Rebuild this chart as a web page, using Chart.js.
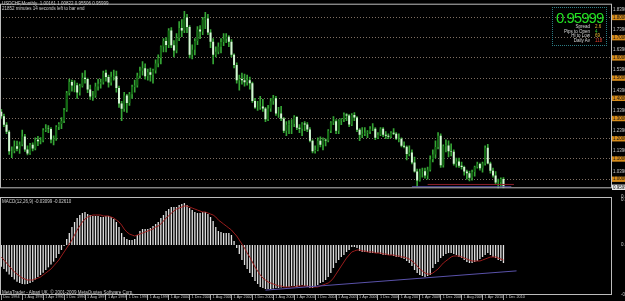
<!DOCTYPE html>
<html>
<head>
<meta charset="utf-8">
<script src="https://cdn.jsdelivr.net/npm/chart.js@4.4.1/dist/chart.umd.min.js"></script>
<style>
html, body { margin: 0; padding: 0; background: #000; }
#wrap { position: relative; width: 625px; height: 301px; overflow: hidden; background: #000; font-family: "Liberation Sans", Arial, sans-serif; }
canvas { position: absolute; left: 0; }
#main { top: 0; }
#macd { top: 192px; }
.txt { position: absolute; color: #cfcfcf; font-size: 4.5px; line-height: 5px; white-space: nowrap; }
#info { position: absolute; left: 552px; top: 7px; width: 53px; height: 37px; border: 1px dotted #2b7c84; }
#info .big { position: absolute; left: 3px; top: 2px; font-size: 15px; line-height: 15px; letter-spacing: -1px; color: #22e022; }
#info .lab { position: absolute; right: 16px; font-size: 4.5px; line-height: 5px; color: #d8d8d8; white-space: nowrap; }
#info .val { position: absolute; left: 42px; font-size: 4.5px; line-height: 5px; white-space: nowrap; }
</style>
</head>
<body>
<div id="wrap">
  <canvas id="main" width="625" height="192"></canvas>
  <canvas id="macd" width="625" height="109"></canvas>
  <div class="txt" style="left:2px;top:1px;">USDCHF,Monthly&nbsp; 1.00161 1.00822 0.95506 0.95999</div>
  <div class="txt" style="left:2px;top:6px;">21852 minutes 14 seconds left to bar end</div>
  <div class="txt" style="left:2px;top:199px;">MACD(12,26,9) -0.03099 -0.02610</div>
  <div class="txt" style="left:2px;top:290px;">MetaTrader - Alpari UK, © 2001-2009 MetaQuotes Software Corp.</div>
  <div id="info">
    <div class="big">0.95999</div>
    <div class="lab" style="top:16px;">Spread</div><div class="val" style="top:16px;color:#e8b830;">2.6</div>
    <div class="lab" style="top:20.5px;">Pips to Open</div><div class="val" style="top:20.5px;color:#33c433;">4</div>
    <div class="lab" style="top:25px;">Hi to Low</div><div class="val" style="top:25px;color:#e8b830;">69</div>
    <div class="lab" style="top:30px;">Daily Av</div><div class="val" style="top:30px;color:#e04030;">118</div>
  </div>
</div>
<script>
// USDCHF monthly, Dec 1994 .. Dec 2010 (one row per year, first row = Dec 1994)
const opens = [
  1.3330,
  1.3110,1.2690,1.2350,1.1380,1.1390,1.1630,1.1510,1.1720,1.2110,1.1470,1.1270,1.1700,
  1.1520,1.1950,1.1880,1.1920,1.2420,1.2490,1.2480,1.1960,1.2010,1.2580,1.2730,1.2880,
  1.3420,1.4260,1.4810,1.4630,1.4650,1.4290,1.4610,1.5020,1.4950,1.4440,1.4090,1.4130,
  1.4590,1.4720,1.4800,1.5260,1.5050,1.4780,1.5070,1.5090,1.4510,1.3750,1.3490,1.4140,
  1.3770,1.4200,1.4570,1.4640,1.5120,1.5370,1.5490,1.5090,1.5290,1.5160,1.5380,1.5720,
  1.6000,1.6560,1.6830,1.6640,1.7350,1.6630,1.6360,1.6980,1.7480,1.7350,1.8000,1.7530,
  1.6150,1.6400,1.6830,1.7400,1.7300,1.7900,1.7950,1.7250,1.6800,1.6150,1.6300,1.6550,
  1.6780,1.6950,1.7050,1.6800,1.6150,1.5650,1.4900,1.4950,1.4900,1.4800,1.4900,1.4750,
  1.3870,1.3550,1.3550,1.3600,1.3500,1.2960,1.3500,1.3850,1.4000,1.3250,1.3250,1.3000,
  1.2400,1.2690,1.2720,1.2730,1.3080,1.2550,1.2500,1.2750,1.2700,1.2460,1.1900,1.1380,
  1.1440,1.1900,1.1700,1.1950,1.1920,1.2400,1.2800,1.2870,1.2400,1.2900,1.2950,1.3200,
  1.3150,1.2700,1.3180,1.3050,1.2450,1.2200,1.2250,1.2300,1.2350,1.2500,1.2500,1.2050,
  1.2200,1.2500,1.2200,1.2150,1.2100,1.2300,1.2250,1.2000,1.2000,1.1650,1.1600,1.1250,
  1.1320,1.0830,1.0380,0.9930,1.0380,1.0390,1.0180,1.0470,1.0990,1.1220,1.1590,1.2150,
  1.0690,1.1630,1.1670,1.1380,1.1360,1.0770,1.0880,1.0670,1.0600,1.0380,1.0300,1.0070,
  1.0350,1.0600,1.0750,1.0540,1.0780,1.1560,1.0780,1.0420,1.0180,0.9840,0.9850,1.0010
];
const highs = [
  1.3450,
  1.3220,1.2800,1.2400,1.1600,1.1900,1.1880,1.1850,1.2430,1.2220,1.1650,1.1780,1.1800,
  1.2050,1.2120,1.2060,1.2500,1.2700,1.2650,1.2550,1.2150,1.2650,1.2800,1.3050,1.3500,
  1.4350,1.4950,1.4900,1.4880,1.4750,1.4700,1.5250,1.5370,1.5000,1.4650,1.4350,1.4750,
  1.4950,1.4950,1.5350,1.5400,1.5150,1.5300,1.5400,1.5350,1.4600,1.3850,1.4300,1.4200,
  1.4300,1.4650,1.4900,1.5250,1.5550,1.5820,1.5700,1.5450,1.5500,1.5450,1.5900,1.6150,
  1.6600,1.6950,1.7000,1.7450,1.7500,1.6850,1.7200,1.7800,1.7900,1.8305,1.8150,1.7600,
  1.6650,1.6950,1.7550,1.7600,1.8000,1.8250,1.8150,1.7400,1.6950,1.6550,1.6750,1.6950,
  1.7200,1.7200,1.7100,1.6900,1.6200,1.5750,1.5150,1.5250,1.5200,1.5150,1.5050,1.4800,
  1.4000,1.3850,1.4100,1.3950,1.3550,1.3650,1.4000,1.4150,1.4100,1.3550,1.3600,1.3050,
  1.2850,1.2900,1.2950,1.3150,1.3100,1.2700,1.2800,1.2850,1.2800,1.2550,1.1950,1.1650,
  1.2050,1.2100,1.2050,1.2000,1.2450,1.2850,1.3100,1.2950,1.2950,1.3000,1.3285,1.3250,
  1.3200,1.3250,1.3300,1.3100,1.2500,1.2550,1.2550,1.2400,1.2600,1.2750,1.2550,1.2300,
  1.2550,1.2550,1.2350,1.2250,1.2350,1.2500,1.2300,1.2250,1.2050,1.1850,1.1650,1.1650,
  1.1450,1.1100,1.0500,1.0500,1.0550,1.0550,1.0600,1.1150,1.1450,1.1900,1.2300,1.2250,
  1.1700,1.1950,1.1900,1.1750,1.1450,1.1050,1.1050,1.0850,1.0650,1.0450,1.0400,1.0450,
  1.0650,1.0850,1.0800,1.0850,1.1650,1.1730,1.0850,1.0550,1.0380,1.0000,1.0070,1.0080
];
const lows = [
  1.3000,
  1.2600,1.2250,1.1220,1.1065,1.1300,1.1400,1.1270,1.1650,1.1380,1.1200,1.1230,1.1400,
  1.1450,1.1660,1.1750,1.1850,1.2350,1.2300,1.1800,1.1700,1.1920,1.2450,1.2500,1.2800,
  1.3350,1.4150,1.4350,1.4320,1.4000,1.4150,1.4550,1.4750,1.4280,1.3950,1.3900,1.4050,
  1.4400,1.4500,1.4700,1.4850,1.4550,1.4650,1.4900,1.4300,1.3550,1.2900,1.3350,1.3300,
  1.3650,1.4000,1.4300,1.4550,1.5000,1.5150,1.4950,1.4900,1.4850,1.4750,1.5250,1.5550,
  1.5700,1.6300,1.6300,1.6500,1.6500,1.6050,1.6250,1.6850,1.7050,1.7250,1.7250,1.6000,
  1.5950,1.6150,1.6650,1.6950,1.7150,1.7450,1.7150,1.6500,1.5700,1.6050,1.6200,1.6250,
  1.6600,1.6750,1.6550,1.6050,1.5500,1.4750,1.4400,1.4700,1.4600,1.4650,1.4450,1.3800,
  1.3500,1.3400,1.3450,1.3350,1.2850,1.2900,1.3350,1.3700,1.3150,1.3050,1.2900,1.2300,
  1.2150,1.2250,1.2250,1.2600,1.2450,1.2300,1.2150,1.2400,1.2350,1.1850,1.1300,1.1290,
  1.1400,1.1600,1.1450,1.1650,1.1850,1.2300,1.2700,1.2250,1.2250,1.2700,1.2850,1.2900,
  1.2600,1.2650,1.2900,1.2350,1.1900,1.2050,1.2150,1.2050,1.2250,1.2400,1.1950,1.2000,
  1.2150,1.2100,1.2000,1.2000,1.2050,1.2200,1.1950,1.1850,1.1600,1.1550,1.0950,1.1150,
  1.0750,1.0350,0.9637,0.9900,1.0100,1.0050,1.0000,1.0400,1.0850,1.1050,1.1500,1.0580,
  1.0600,1.1350,1.1100,1.1150,1.0700,1.0600,1.0580,1.0500,1.0200,1.0000,0.9915,0.9950,
  1.0150,1.0550,1.0450,1.0350,1.0700,1.0750,1.0300,1.0100,0.9750,0.9460,0.9630,0.9550
];
const closes = [
  1.3110,
  1.2690,1.2350,1.1380,1.1390,1.1630,1.1510,1.1720,1.2110,1.1470,1.1270,1.1700,1.1520,
  1.1950,1.1880,1.1920,1.2420,1.2490,1.2480,1.1960,1.2010,1.2580,1.2730,1.2880,1.3420,
  1.4260,1.4810,1.4630,1.4650,1.4290,1.4610,1.5020,1.4950,1.4440,1.4090,1.4130,1.4590,
  1.4720,1.4800,1.5260,1.5050,1.4780,1.5070,1.5090,1.4510,1.3750,1.3490,1.4140,1.3770,
  1.4200,1.4570,1.4640,1.5120,1.5370,1.5490,1.5090,1.5290,1.5160,1.5380,1.5720,1.6000,
  1.6560,1.6830,1.6640,1.7350,1.6630,1.6360,1.6980,1.7480,1.7350,1.8000,1.7530,1.6150,
  1.6400,1.6830,1.7400,1.7300,1.7900,1.7950,1.7250,1.6800,1.6150,1.6300,1.6550,1.6780,
  1.6950,1.7050,1.6800,1.6150,1.5650,1.4900,1.4950,1.4900,1.4800,1.4900,1.4750,1.3870,
  1.3550,1.3550,1.3600,1.3500,1.2960,1.3500,1.3850,1.4000,1.3250,1.3250,1.3000,1.2400,
  1.2690,1.2720,1.2730,1.3080,1.2550,1.2500,1.2750,1.2700,1.2460,1.1900,1.1380,1.1440,
  1.1900,1.1700,1.1950,1.1920,1.2400,1.2800,1.2870,1.2400,1.2900,1.2950,1.3200,1.3150,
  1.2700,1.3180,1.3050,1.2450,1.2200,1.2250,1.2300,1.2350,1.2500,1.2500,1.2050,1.2200,
  1.2500,1.2200,1.2150,1.2100,1.2300,1.2250,1.2000,1.2000,1.1650,1.1600,1.1250,1.1320,
  1.0830,1.0380,0.9930,1.0380,1.0390,1.0180,1.0470,1.0990,1.1220,1.1590,1.2150,1.0690,
  1.1630,1.1670,1.1380,1.1360,1.0770,1.0880,1.0670,1.0600,1.0380,1.0300,1.0070,1.0350,
  1.0600,1.0750,1.0540,1.0780,1.1560,1.0780,1.0420,1.0180,0.9840,0.9850,1.0010,0.9600
];

// MACD(12,26,9): main line (histogram) and signal line
const macdMain = [
  -0.0373,
  -0.0413,-0.0459,-0.0507,-0.0550,-0.0593,-0.0631,-0.0654,-0.0671,-0.0676,-0.0671,-0.0654,-0.0631,
  -0.0593,-0.0550,-0.0516,-0.0476,-0.0430,-0.0384,-0.0335,-0.0287,-0.0224,-0.0155,-0.0086,-0.0017,
  0.0103,0.0206,0.0310,0.0396,0.0464,0.0516,0.0550,0.0568,0.0533,0.0516,0.0499,0.0499,
  0.0499,0.0482,0.0482,0.0499,0.0499,0.0482,0.0447,0.0396,0.0310,0.0206,0.0138,0.0103,
  0.0086,0.0086,0.0103,0.0172,0.0241,0.0275,0.0275,0.0275,0.0292,0.0327,0.0361,0.0396,
  0.0464,0.0516,0.0585,0.0619,0.0654,0.0654,0.0654,0.0688,0.0705,0.0722,0.0688,0.0636,
  0.0602,0.0568,0.0550,0.0550,0.0568,0.0568,0.0533,0.0482,0.0413,0.0310,0.0241,0.0224,
  0.0206,0.0206,0.0206,0.0172,0.0069,-0.0052,-0.0155,-0.0258,-0.0344,-0.0413,-0.0482,-0.0550,
  -0.0619,-0.0671,-0.0722,-0.0740,-0.0757,-0.0757,-0.0757,-0.0748,-0.0740,-0.0740,-0.0731,-0.0722,
  -0.0722,-0.0722,-0.0705,-0.0705,-0.0722,-0.0705,-0.0688,-0.0705,-0.0722,-0.0740,-0.0740,-0.0722,
  -0.0688,-0.0654,-0.0636,-0.0602,-0.0550,-0.0482,-0.0396,-0.0310,-0.0258,-0.0206,-0.0172,-0.0120,
  -0.0086,-0.0034,-0.0034,-0.0052,-0.0103,-0.0120,-0.0120,-0.0120,-0.0138,-0.0138,-0.0138,-0.0138,
  -0.0155,-0.0172,-0.0172,-0.0172,-0.0172,-0.0189,-0.0206,-0.0206,-0.0224,-0.0241,-0.0275,-0.0310,
  -0.0361,-0.0430,-0.0482,-0.0516,-0.0533,-0.0550,-0.0533,-0.0516,-0.0396,-0.0327,-0.0292,-0.0224,
  -0.0189,-0.0155,-0.0138,-0.0138,-0.0155,-0.0172,-0.0206,-0.0224,-0.0258,-0.0292,-0.0310,-0.0310,
  -0.0292,-0.0275,-0.0241,-0.0206,-0.0172,-0.0138,-0.0172,-0.0206,-0.0224,-0.0258,-0.0275,-0.0310
];
const macdSignal = [
  -0.0206,
  -0.0258,-0.0310,-0.0361,-0.0413,-0.0464,-0.0499,-0.0533,-0.0568,-0.0585,-0.0602,-0.0602,-0.0602,
  -0.0585,-0.0568,-0.0550,-0.0516,-0.0482,-0.0447,-0.0413,-0.0361,-0.0310,-0.0258,-0.0189,-0.0120,
  -0.0052,0.0017,0.0086,0.0172,0.0258,0.0327,0.0396,0.0447,0.0482,0.0499,0.0516,0.0516,
  0.0516,0.0516,0.0499,0.0499,0.0499,0.0482,0.0464,0.0430,0.0396,0.0344,0.0275,0.0224,
  0.0189,0.0172,0.0155,0.0172,0.0189,0.0206,0.0224,0.0241,0.0258,0.0275,0.0310,0.0327,
  0.0361,0.0413,0.0464,0.0499,0.0550,0.0585,0.0619,0.0636,0.0654,0.0671,0.0671,0.0654,
  0.0636,0.0619,0.0602,0.0585,0.0568,0.0568,0.0550,0.0533,0.0516,0.0482,0.0430,0.0396,
  0.0361,0.0327,0.0292,0.0258,0.0206,0.0155,0.0086,0.0017,-0.0052,-0.0138,-0.0206,-0.0292,
  -0.0378,-0.0447,-0.0516,-0.0568,-0.0602,-0.0636,-0.0654,-0.0671,-0.0688,-0.0705,-0.0705,-0.0722,
  -0.0722,-0.0722,-0.0722,-0.0722,-0.0705,-0.0705,-0.0705,-0.0705,-0.0705,-0.0722,-0.0722,-0.0722,
  -0.0722,-0.0705,-0.0688,-0.0671,-0.0654,-0.0619,-0.0568,-0.0499,-0.0430,-0.0361,-0.0292,-0.0224,
  -0.0172,-0.0120,-0.0103,-0.0086,-0.0086,-0.0103,-0.0103,-0.0120,-0.0120,-0.0120,-0.0138,-0.0138,
  -0.0138,-0.0155,-0.0155,-0.0172,-0.0172,-0.0172,-0.0189,-0.0189,-0.0206,-0.0206,-0.0224,-0.0241,
  -0.0275,-0.0310,-0.0361,-0.0413,-0.0447,-0.0482,-0.0499,-0.0499,-0.0482,-0.0447,-0.0413,-0.0361,
  -0.0310,-0.0275,-0.0241,-0.0206,-0.0189,-0.0189,-0.0189,-0.0206,-0.0224,-0.0241,-0.0258,-0.0275,
  -0.0275,-0.0275,-0.0275,-0.0258,-0.0241,-0.0224,-0.0206,-0.0206,-0.0206,-0.0224,-0.0241,-0.0258
];

// drawn objects (bar index from / to, price)
const redLevel = { from: 163, to: 196, price: 0.9740 };
const blueLevel = { from: 157, to: 195, price: 0.9630 };
const macdTrend = { from: 101, to: 197, start: -0.0776, end: -0.0445 };

// axis labels
const timeLabels = ['Dec 1994','1 Aug 1995','1 Apr 1996','1 Dec 1996','1 Aug 1997','1 Apr 1998','1 Dec 1998',
  '1 Aug 1999','1 Apr 2000','1 Dec 2000','1 Aug 2001','1 Apr 2002','1 Dec 2002','1 Aug 2003','1 Apr 2004',
  '1 Dec 2004','1 Aug 2005','1 Apr 2006','1 Dec 2006','1 Aug 2007','1 Apr 2008','1 Dec 2008','1 Aug 2009',
  '1 Apr 2010','1 Dec 2010'];
const priceGrid = [1.0, 1.1, 1.2, 1.3, 1.4, 1.5, 1.6, 1.7, 1.8];
const priceScale = [1.0390, 1.1390, 1.2390, 1.3390, 1.4390, 1.5390, 1.6390, 1.7390, 1.8390];
const lastPrice = 0.95999;
const macdTicks = [0.0826, 0.0774, 0, -0.0860];

// chart setup
const SLOTS = 234; // bars + empty space on the right
const monthNames = ['Jan','Feb','Mar','Apr','May','Jun','Jul','Aug','Sep','Oct','Nov','Dec'];
const categories = [];
for (let i = 0; i < SLOTS; i++) {
  categories.push(i < closes.length ? monthNames[(11 + i) % 12] + ' ' + (1994 + Math.floor((11 + i) / 12)) : '');
}

function segment(obj, a, b) {
  const arr = new Array(SLOTS).fill(null);
  arr[obj.from] = a;
  arr[obj.to] = b;
  return arr;
}

const framePlugin = {
  id: 'frame',
  afterDraw(chart) {
    const { ctx, chartArea: a } = chart;
    ctx.save();
    ctx.strokeStyle = '#bcbcbc';
    ctx.lineWidth = 1;
    ctx.strokeRect(a.left + 0.5, a.top + 0.5, a.right - a.left - 1, a.bottom - a.top - 1);
    ctx.restore();
  }
};

const tickFont = { family: 'Liberation Sans', size: 4.5 };

// main window: candles
new Chart(document.getElementById('main'), {
  type: 'bar',
  data: {
    labels: categories,
    datasets: [
      {
        type: 'line',
        data: segment(redLevel, redLevel.price, redLevel.price),
        borderColor: '#8c1f2a', borderWidth: 1, pointRadius: 0, spanGaps: true, order: -2
      },
      {
        type: 'line',
        data: segment(blueLevel, blueLevel.price, blueLevel.price),
        borderColor: '#4e4a9c', borderWidth: 1, pointRadius: 0, spanGaps: true, order: -1
      },
      {
        data: opens.map((o, i) => [o, closes[i]]),
        backgroundColor: opens.map((o, i) => closes[i] >= o ? '#146a14' : '#d6f6d6'),
        barPercentage: 0.75, categoryPercentage: 1, grouped: false, order: 0
      },
      {
        data: lows.map((l, i) => [l, highs[i]]),
        backgroundColor: '#35a535',
        barThickness: 1, grouped: false, order: 1
      }
    ]
  },
  options: {
    responsive: false, animation: false, devicePixelRatio: 1,
    layout: { padding: { top: 1, bottom: 3, left: 0, right: 0 } },
    plugins: { legend: { display: false }, tooltip: { enabled: false } },
    scales: {
      x: { display: false, offset: true },
      y: {
        position: 'right', min: 0.955, max: 1.868,
        afterFit: s => { s.width = 13; },
        afterBuildTicks: s => {
          s.ticks = priceGrid.concat(priceScale, [lastPrice]).map(v => ({ value: v }));
        },
        grid: {
          drawTicks: false,
          color: c => (c.tick && priceGrid.includes(c.tick.value)) ? 'rgba(150,132,118,0.85)' : 'rgba(0,0,0,0)'
        },
        border: { display: false, dash: [1, 2] },
        ticks: {
          font: tickFont, padding: 1,
          showLabelBackdrop: true,
          backdropPadding: { left: 1, right: 4, top: 0, bottom: 0 },
          backdropColor: c => priceGrid.includes(c.tick.value) ? '#d78c1c' : (c.tick.value === lastPrice ? '#e8e8e8' : 'rgba(0,0,0,0)'),
          color: c => (priceGrid.includes(c.tick.value) || c.tick.value === lastPrice) ? '#111' : '#c8c8c8',
          callback: v => v === lastPrice ? '0.95999' : v.toFixed(4)
        }
      }
    }
  },
  plugins: [framePlugin]
});

// indicator window: MACD
new Chart(document.getElementById('macd'), {
  type: 'bar',
  data: {
    labels: categories,
    datasets: [
      {
        type: 'line',
        data: segment(macdTrend, macdTrend.start, macdTrend.end),
        borderColor: '#5a52aa', borderWidth: 1, pointRadius: 0, spanGaps: true, order: -2
      },
      {
        type: 'line',
        data: macdSignal,
        borderColor: '#9a1c1c', borderWidth: 1, pointRadius: 0, tension: 0, order: -1
      },
      {
        data: macdMain,
        backgroundColor: '#e2e2e2',
        barPercentage: 0.5, categoryPercentage: 1, grouped: false, order: 0
      }
    ]
  },
  options: {
    responsive: false, animation: false, devicePixelRatio: 1,
    layout: { padding: { top: 5, bottom: 0, left: 0, right: 0 } },
    plugins: { legend: { display: false }, tooltip: { enabled: false } },
    scales: {
      x: {
        offset: true,
        afterFit: s => { s.height = 6; },
        afterBuildTicks: s => {
          s.ticks = s.ticks.filter(t => t.value % 8 === 0 && t.value < closes.length);
        },
        grid: { offset: false, drawOnChartArea: false, drawTicks: true, tickLength: 5, tickColor: '#9a9a9a' },
        border: { display: false },
        ticks: {
          autoSkip: false, maxRotation: 0, minRotation: 0, align: 'start', labelOffset: 2, padding: -5,
          font: { family: 'Liberation Sans', size: 3.8 }, color: '#c8c8c8',
          callback: v => timeLabels[v / 8]
        }
      },
      y: {
        position: 'right', min: -0.0860, max: 0.0826,
        afterFit: s => { s.width = 13; },
        afterBuildTicks: s => { s.ticks = macdTicks.map(v => ({ value: v })); },
        grid: { display: false },
        border: { display: false },
        ticks: {
          font: tickFont, padding: 1, color: '#c8c8c8',
          callback: v => v === 0 ? '0.00' : v.toFixed(6)
        }
      }
    }
  },
  plugins: [framePlugin]
});
</script>
</body>
</html>
